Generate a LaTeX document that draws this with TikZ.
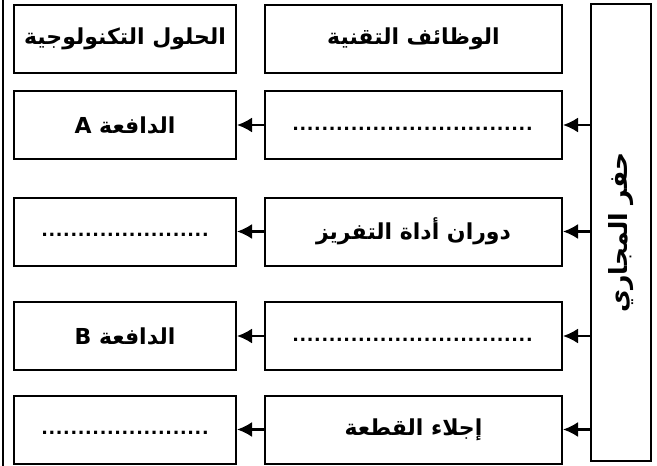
\documentclass[tikz,border=0pt]{standalone}
\usepackage{fontspec}
\setmainfont{Liberation Sans}
\newfontfamily\arabicfont[Script=Arabic]{DejaVu Sans}
\TeXXeTstate=1
\usetikzlibrary{arrows.meta}
\newcommand{\dotrow}[1]{\rule{0pt}{10pt}\hbox to #1{\leaders\hbox to 7.3pt{\hss.\hss}\hfill}}
\newcommand{\ar}[1]{{\arabicfont\bfseries\beginR #1\endR}}

\begin{document}
\begin{tikzpicture}[x=1pt,y=-1pt]
\tikzstyle{box}=[rectangle, draw=black, line width=2pt, font=\fontsize{22}{26}\selectfont\bfseries]
\tikzstyle{sol}=[box, minimum width=222pt, minimum height=68pt]
\tikzstyle{func}=[box, minimum width=297pt, minimum height=68pt]
\tikzstyle{connect}=[-{Latex[length=15pt,width=15pt]}, line width=2.2pt]
\useasboundingbox (0,0) rectangle (657,466);
  \draw[line width=1.4pt] (3,0) -- (3,466);
  % main function
  \node[rectangle, draw=black, line width=1.4pt, minimum width=60pt, minimum height=457pt] (drain) at (621,232.5) {};
  \node[rotate=90, font=\fontsize{25}{30}\selectfont] at (drain.center) {\ar{حفر  المجاري}};
  % headers
  \node[sol] (hs) at (125,39) {\ar{الحلول التكنولوجية}};
  \node[func] (hf) at (413.5,39) {\ar{الوظائف التقنية}};
  % rows
  \node[func] (f1) at (413.5,125) {\dotrow{243pt}};
  \node[sol] (s1) at (125,125) {\ar{الدافعة A}};
  \node[func] (f2) at (413.5,231.5) {\ar{دوران أداة التفريز}};
  \node[sol] (s2) at (125,231.5) {\dotrow{168pt}};
  \node[func] (f3) at (413.5,336) {\dotrow{243pt}};
  \node[sol] (s3) at (125,336) {\ar{الدافعة B}};
  \node[func] (f4) at (413.5,429.5) {\ar{إجلاء  القطعة}};
  \node[sol] (s4) at (125,429.5) {\dotrow{168pt}};
  \foreach \i in {1,...,4} {
    \draw[connect] (drain.west |- f\i.east) -- (f\i.east);
    \draw[connect] (f\i.west) -- (s\i.east);
  }
\end{tikzpicture}
\end{document}
